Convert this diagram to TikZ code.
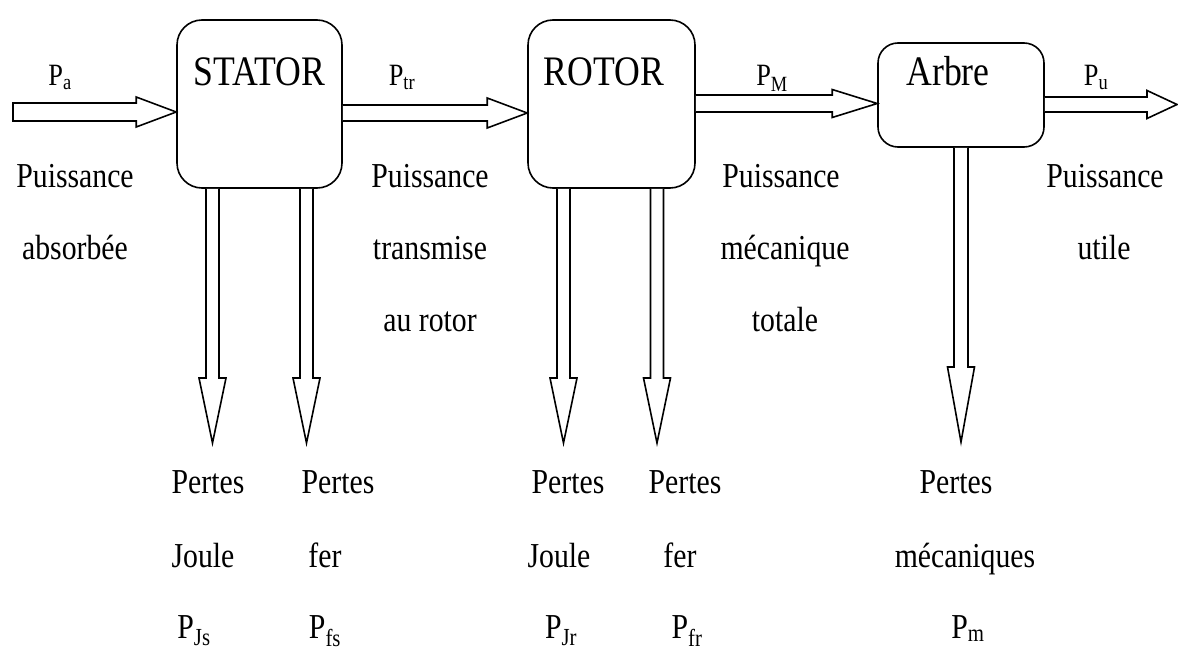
\documentclass[tikz,border=0pt]{standalone}
\usepackage{fontspec}
\usepackage{graphicx}
\setmainfont{Liberation Serif}
\usetikzlibrary{calc}
\newcommand\sq[1]{\scalebox{0.85}[1]{#1}}
\tikzset{
  box/.style={draw, line width=1.6pt, rounded corners=25pt, fill=white, inner sep=0pt},
  arr/.style={draw, line width=1.6pt, fill=white, line join=miter},
  body/.style={anchor=base, inner sep=0pt, font=\fontsize{35}{40}\selectfont},
  boxlbl/.style={anchor=base, inner sep=0pt, font=\fontsize{42}{48}\selectfont},
  toplbl/.style={anchor=base, inner sep=0pt, font=\fontsize{31}{36}\selectfont},
}
\newcommand\hollowH[5]{\draw[arr] ($(#1)+(0,-#3)$) -- ($(#2)+(-#5,-#3)$) -- ($(#2)+(-#5,-#4)$) -- (#2) -- ($(#2)+(-#5,#4)$) -- ($(#2)+(-#5,#3)$) -- ($(#1)+(0,#3)$);}
\newcommand\hollowV[5]{\draw[arr] ($(#1)+(-#3,0)$) -- ($(#2)+(-#3,-#5)$) -- ($(#2)+(-#4,-#5)$) -- (#2) -- ($(#2)+(#4,-#5)$) -- ($(#2)+(#3,-#5)$) -- ($(#1)+(#3,0)$);}
\begin{document}
\begin{tikzpicture}[x=1pt,y=-1pt]
\useasboundingbox (0,0) rectangle (1178,650);
% boxes
\node[box, minimum width=165pt, minimum height=168pt] (stator) at (259.5,104) {};
\node[box, minimum width=167pt, minimum height=168pt] (rotor) at (611.5,104) {};
\node[box, rounded corners=20pt, minimum width=166pt, minimum height=104pt] (arbre) at (961,95) {};
\node[boxlbl] (lstator) at (259.5,86) {\sq{STATOR}};
\node[boxlbl] (lrotor) at (604,86) {\sq{ROTOR}};
\node[boxlbl] (larbre) at (948,86) {\sq{Arbre}};
% horizontal arrows
\coordinate (pa0) at (13,112);
\coordinate (pa1) at (pa0 -| stator.west);
\draw[arr] ($(pa0)+(0,-9)$) -- ($(pa1)+(-40,-9)$) -- ($(pa1)+(-40,-15)$) -- (pa1) -- ($(pa1)+(-40,15)$) -- ($(pa1)+(-40,9)$) -- ($(pa0)+(0,9)$) -- cycle;
\coordinate (ptr) at (0,113);
\hollowH{ptr -| stator.east}{ptr -| rotor.west}{8}{15}{40}
\coordinate (pm) at (0,103.5);
\hollowH{pm -| rotor.east}{pm -| arbre.west}{8.5}{14}{45}
\coordinate (pu) at (1177,104.5);
\hollowH{pu -| arbre.east}{pu}{7.5}{14}{30}
% vertical arrows
\coordinate (tjs) at (212.5,443);
\coordinate (tfs) at (306.5,443);
\coordinate (tjr) at (563.5,443);
\coordinate (tfr) at (657,443);
\coordinate (tm) at (961,442);
\hollowV{tjs |- stator.south}{tjs}{6.5}{13.5}{65}
\hollowV{tfs |- stator.south}{tfs}{6.5}{13.5}{65}
\hollowV{tjr |- rotor.south}{tjr}{6.5}{13.5}{65}
\hollowV{tfr |- rotor.south}{tfr}{6.5}{13.5}{65}
\hollowV{tm |- arbre.south}{tm}{7}{13.5}{75}
% top labels
\node[toplbl] (lpa) at (60,86) {\sq{P\textsubscript{a}}};
\node[toplbl] (lptr) at (402,86) {\sq{P\textsubscript{tr}}};
\node[toplbl] (lpm) at (772,86) {\sq{P\textsubscript{M}}};
\node[toplbl] (lpu) at (1096,86) {\sq{P\textsubscript{u}}};
% body texts
\node[body] (t1a) at (75,187) {\sq{Puissance}};
\node[body] (t1b) at (75,259) {\sq{absorbée}};
\node[body] (t2a) at (430,187) {\sq{Puissance}};
\node[body] (t2b) at (430,259) {\sq{transmise}};
\node[body] (t2c) at (430,331) {\sq{au rotor}};
\node[body] (t3a) at (781,187) {\sq{Puissance}};
\node[body] (t3b) at (785,259) {\sq{mécanique}};
\node[body] (t3c) at (785,331) {\sq{totale}};
\node[body] (t4a) at (1105,187) {\sq{Puissance}};
\node[body] (t4b) at (1104,259) {\sq{utile}};
% bottom texts
\node[body] (b1a) at (208,493) {\sq{Pertes}};
\node[body] (b1b) at (203,567) {\sq{Joule}};
\node[body] (b1c) at (194,638) {\sq{P\textsubscript{Js}}};
\node[body] (b2a) at (338,493) {\sq{Pertes}};
\node[body] (b2b) at (325,567) {\sq{fer}};
\node[body] (b2c) at (325,638) {\sq{P\textsubscript{fs}}};
\node[body] (b3a) at (568,493) {\sq{Pertes}};
\node[body] (b3b) at (559,567) {\sq{Joule}};
\node[body] (b3c) at (561,638) {\sq{P\textsubscript{Jr}}};
\node[body] (b4a) at (685,493) {\sq{Pertes}};
\node[body] (b4b) at (680,567) {\sq{fer}};
\node[body] (b4c) at (687,638) {\sq{P\textsubscript{fr}}};
\node[body] (b5a) at (956,493) {\sq{Pertes}};
\node[body] (b5b) at (965,567) {\sq{mécaniques}};
\node[body] (b5c) at (968,638) {\sq{P\textsubscript{m}}};
\end{tikzpicture}
\end{document}
